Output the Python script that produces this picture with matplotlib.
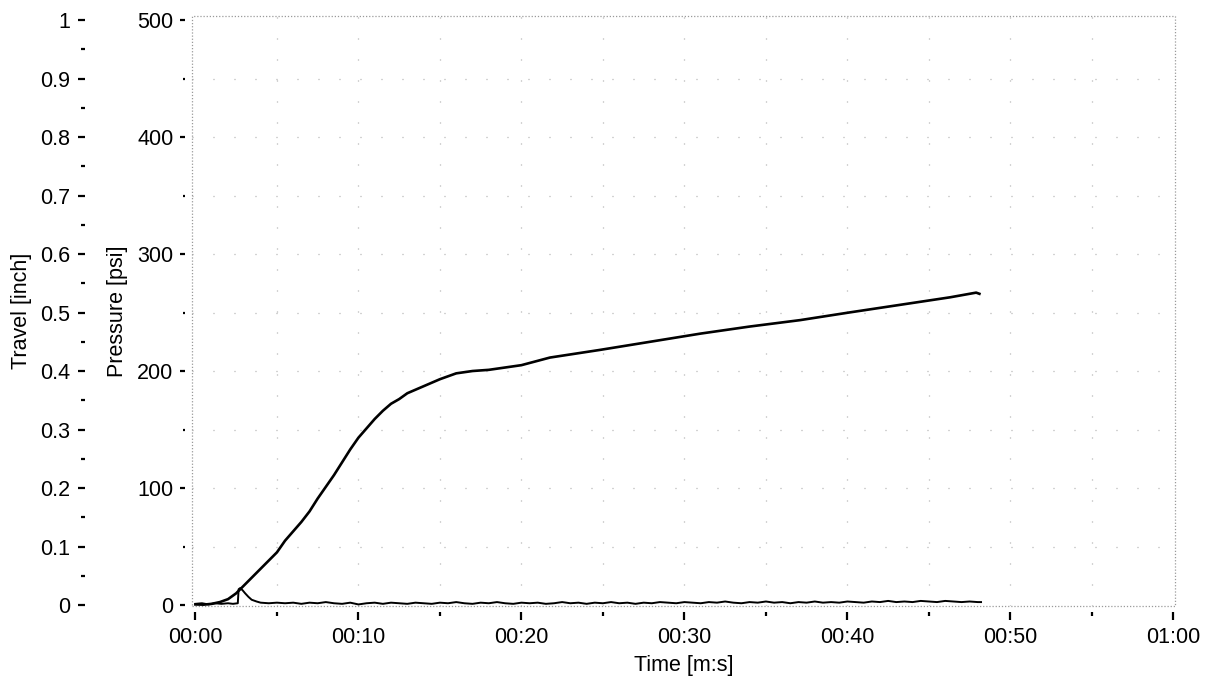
import numpy as np
import matplotlib
matplotlib.use("Agg")
import matplotlib.pyplot as plt
from matplotlib.patches import Rectangle
from matplotlib.ticker import MultipleLocator, FixedLocator, FixedFormatter, FuncFormatter

plt.rcParams['font.family'] = ['Liberation Sans', 'DejaVu Sans']

# ---------------- data ----------------
# Pressure trace [psi] vs time [s]
pressure_t = [0.0, 0.5, 1.0, 1.5, 2.0, 2.5, 3.0, 3.5, 4.0, 4.5, 5.0, 5.5, 6.0, 6.5,
              7.0, 7.5, 8.0, 8.5, 9.0, 9.5, 10.0, 10.5, 11.0, 11.5, 12.0, 12.5,
              13.0, 14.0, 15.0, 16.0, 17.0, 18.0, 19.0, 20.0, 21.75, 24.8, 27.9,
              31.0, 34.0, 37.1, 40.1, 43.2, 46.3, 47.9, 48.1]
pressure_psi = [0.5, 0.3, 1.0, 2.5, 5.0, 10.0, 17.0, 24.0, 31.0, 38.0, 45.0, 55.0, 63.0, 71.0,
                80.0, 91.0, 101.0, 111.0, 122.0, 133.0, 143.0, 151.0, 159.0, 166.0, 172.0, 176.0,
                181.0, 187.0, 193.0, 198.0, 200.0, 201.0, 203.0, 205.0, 211.5, 218.0, 225.0,
                232.0, 238.0, 243.5, 250.0, 256.5, 263.0, 267.0, 266.0]

# Travel trace [inch] vs time [s]
travel_t = [0.0, 0.4, 0.8, 1.2, 1.6, 2.0, 2.3, 2.6, 2.65, 2.75, 2.9, 3.05, 3.25, 3.45, 3.75]
travel_in = [0.002, 0.003, 0.001, 0.003, 0.002, 0.003, 0.002, 0.003, 0.027, 0.029, 0.025,
             0.020, 0.014, 0.009, 0.006]
travel_noise_start = 4.0
travel_noise_step = 0.5
travel_noise_in = [0.004, 0.003, 0.004, 0.003, 0.004, 0.002, 0.004, 0.003, 0.005, 0.003,
                   0.002, 0.004, 0.001, 0.003, 0.004, 0.002, 0.004, 0.003, 0.002, 0.004,
                   0.003, 0.002, 0.004, 0.003, 0.005, 0.003, 0.002, 0.004, 0.003, 0.005,
                   0.003, 0.002, 0.004, 0.003, 0.004, 0.002, 0.003, 0.005, 0.003, 0.004,
                   0.002, 0.004, 0.003, 0.005, 0.003, 0.004, 0.002, 0.004, 0.003, 0.005,
                   0.004, 0.003, 0.005, 0.004, 0.003, 0.005, 0.004, 0.006, 0.004, 0.003,
                   0.005, 0.004, 0.006, 0.004, 0.005, 0.003, 0.005, 0.004, 0.006, 0.004,
                   0.005, 0.004, 0.006, 0.005, 0.004, 0.006, 0.005, 0.007, 0.005, 0.006,
                   0.005, 0.007, 0.006, 0.005, 0.007, 0.006, 0.005, 0.006, 0.005]
travel_end_t = 48.2
travel_end_in = 0.005

time_ticks = [0, 10, 20, 30, 40, 50, 60]
time_tick_labels = ["00:00", "00:10", "00:20", "00:30", "00:40", "00:50", "01:00"]
pressure_ticks = [0, 100, 200, 300, 400, 500]
travel_ticks = [0, 0.1, 0.2, 0.3, 0.4, 0.5, 0.6, 0.7, 0.8, 0.9, 1.0]

# ---------------- figure ----------------
FS = 15.5
W, H = 1209, 677
fig = plt.figure(figsize=(W / 100, H / 100), dpi=100)
left_px, right_px, top_px, bot_px = 192, 1175, 15.7, 606
ax = fig.add_axes([left_px / W, 1 - bot_px / H, (right_px - left_px) / W, (bot_px - top_px) / H])

ax.set_xlim(-0.21, 60.1)
p_lo, p_hi = -0.85, 503.7
ax.set_ylim(p_lo, p_hi)

for s in ax.spines.values():
    s.set_visible(False)
ax.spines['bottom'].set_position(('outward', 4.3))
ax.spines['left'].set_position(('outward', 5))

# grid (sparse faint dots)
grid_kw = dict(color='#a8a8a8', lw=0.9, ls=(0, (0.8, 16)), zorder=0)
for gx in np.arange(5, 60, 5):
    ax.axvline(gx, **grid_kw)
for gy in np.arange(50, 500, 50):
    ax.axhline(gy, **grid_kw)

# dotted border
ax.add_patch(Rectangle((0, 0), 1, 1, transform=ax.transAxes, fill=False,
                       ec='#9a9a9a', lw=0.9, ls=(0, (1, 1.5)), clip_on=False, zorder=1))

# pressure line
ax.plot(pressure_t, pressure_psi, color='black', lw=1.9, zorder=3)

# x ticks
ax.xaxis.set_major_locator(FixedLocator(time_ticks))
ax.xaxis.set_major_formatter(FixedFormatter(time_tick_labels))
ax.xaxis.set_minor_locator(MultipleLocator(5))
ax.tick_params(axis='x', which='major', length=5.8, width=1.6, pad=5, labelsize=FS, colors='black')
ax.tick_params(axis='x', which='minor', length=2.9, width=1.6)

# pressure y ticks
ax.yaxis.set_major_locator(FixedLocator(pressure_ticks))
ax.yaxis.set_minor_locator(MultipleLocator(50))
ax.tick_params(axis='y', which='major', length=3.6, width=1.6, pad=4.8, labelsize=FS)
ax.tick_params(axis='y', which='minor', length=1.8, width=1.6)

ax.set_ylabel('Pressure [psi]', fontsize=FS, rotation=90, va='center', ha='center',
              rotation_mode='default')
ax.yaxis.set_label_coords((118 - left_px) / (right_px - left_px), 0.5)
ax.set_xlabel('Time [m:s]', fontsize=FS, va='center', ha='center')
ax.xaxis.set_label_coords(0.5, (bot_px - 665) / (bot_px - top_px))

# travel axis
ax2 = ax.twinx()
for s in ax2.spines.values():
    s.set_visible(False)
ax2.yaxis.set_ticks_position('left')
ax2.yaxis.set_label_position('left')
ax2.spines['left'].set_position(('outward', 77))
ax2.set_ylim(p_lo / 500, p_hi / 500)
ax2.yaxis.set_major_locator(FixedLocator(travel_ticks))
ax2.yaxis.set_major_formatter(FuncFormatter(lambda v, p: f"{v:g}"))
ax2.yaxis.set_minor_locator(MultipleLocator(0.05))
ax2.tick_params(axis='y', which='major', length=5, width=1.6, pad=5.8, labelsize=FS)
ax2.tick_params(axis='y', which='minor', length=2.9, width=1.6)
ax2.set_ylabel('Travel [inch]', fontsize=FS, rotation=90, va='center', ha='center',
               rotation_mode='default')
ax2.yaxis.set_label_coords((22 - left_px) / (right_px - left_px), 0.5)

noise_t = travel_noise_start + travel_noise_step * np.arange(len(travel_noise_in))
t_all = list(travel_t) + list(noise_t) + [travel_end_t]
v_all = list(travel_in) + list(travel_noise_in) + [travel_end_in]
ax2.plot(t_all, v_all, color='black', lw=1.4, zorder=3)

fig.savefig('out.png', dpi=100)
